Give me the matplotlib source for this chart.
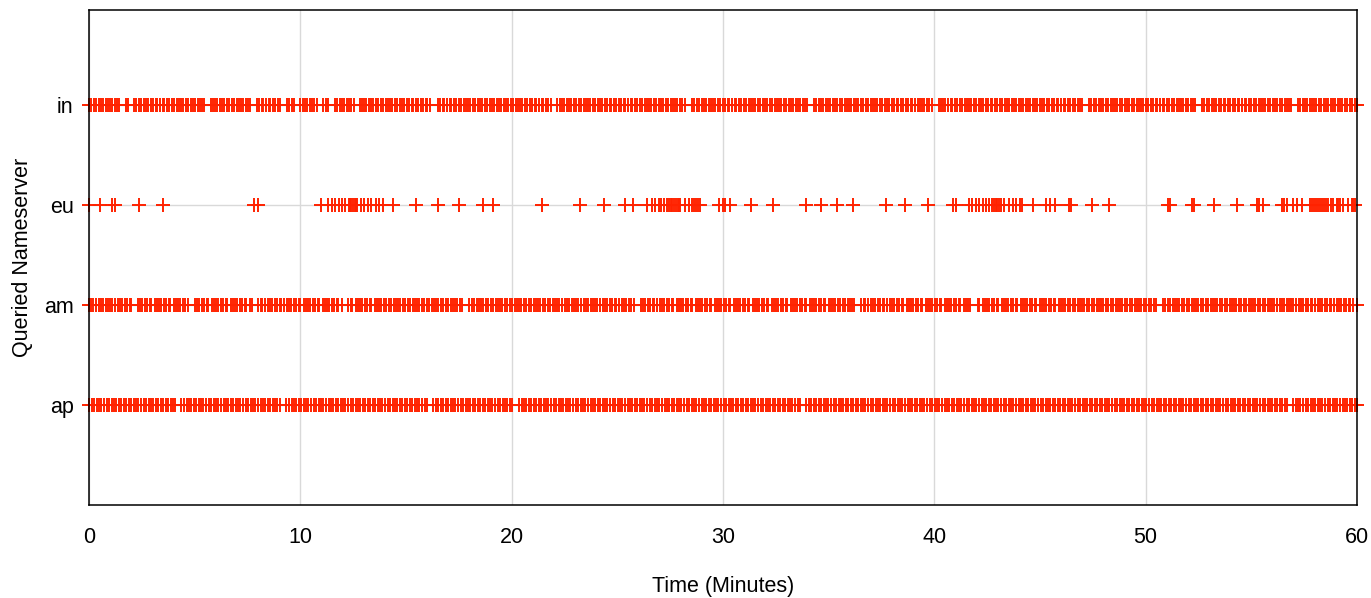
import matplotlib
matplotlib.use("Agg")
import matplotlib.pyplot as plt
import numpy as np

plt.rcParams['font.family'] = ['Liberation Sans', 'DejaVu Sans']

categories = ["ap", "am", "eu", "in"]
x_ticks = [0, 10, 20, 30, 40, 50, 60]

# query times (seconds) for the dense rows
in_s = [0, 6, 14, 19, 27, 34, 39, 47, 53, 61, 66, 74, 80, 86,
    104, 110,
    128, 134, 142, 147, 155, 162, 167, 175, 181, 189, 194, 202, 209, 214, 222, 228, 236, 241, 249, 255, 262, 268, 276, 281, 289, 296, 301, 309, 315, 322, 327,
    345, 352, 359, 364, 372, 379, 384, 392, 398, 406, 411, 419, 425, 432, 438, 445, 451, 458,
    476, 483, 490, 495, 503, 510, 515, 523, 529, 537, 543,
    562, 569, 576, 582,
    600, 607, 614, 619, 627, 634, 639, 646,
    665, 672, 679,
    698, 705, 712, 717, 725, 732, 737, 745, 751,
    768, 775, 782, 787, 795, 802, 807, 815, 821, 829, 834, 842, 848, 855, 861, 869, 874, 882, 889, 894, 902, 908, 916, 921, 929, 935, 942, 948, 956, 961, 968,
    990, 996, 1004, 1009, 1017, 1024, 1029, 1037, 1043, 1051, 1056, 1064, 1070, 1077, 1083, 1091, 1096, 1104, 1111, 1116, 1124, 1130, 1138, 1143, 1151, 1157, 1164, 1170, 1178, 1183, 1191, 1198, 1203, 1211, 1217, 1225, 1230, 1238, 1244, 1251, 1257, 1265, 1270, 1278, 1285, 1290, 1298, 1304, 1311,
    1330, 1337, 1344, 1349, 1357, 1364, 1369, 1377, 1383, 1391, 1396, 1404, 1410, 1417, 1423, 1431, 1436, 1444, 1451, 1456, 1464, 1470, 1478, 1483, 1491, 1497, 1504, 1510, 1518, 1523, 1531, 1538, 1543, 1551, 1557, 1565, 1570, 1578, 1584, 1591, 1597, 1605, 1610, 1618, 1625, 1630, 1638, 1644, 1651, 1657, 1665, 1670, 1678, 1684, 1691,
    1712, 1718, 1726, 1731, 1739, 1746, 1751, 1759, 1765, 1773, 1778, 1786, 1792, 1799, 1805, 1813, 1818, 1826, 1833, 1838, 1846, 1852, 1860, 1865, 1873, 1879, 1886, 1892, 1900, 1905, 1913, 1920, 1925, 1933, 1939, 1947, 1952, 1960, 1966, 1973, 1979, 1987, 1992, 2000, 2007, 2012, 2020, 2026, 2033, 2039,
    2058, 2065, 2072, 2077, 2085, 2092, 2097, 2105, 2111, 2119, 2124, 2132, 2138, 2145, 2151, 2159, 2164, 2172, 2179, 2184, 2192, 2198, 2206, 2211, 2219, 2225, 2232, 2238, 2246, 2251, 2259, 2266, 2271, 2279, 2285, 2293, 2298, 2306, 2312, 2319, 2325, 2333, 2338, 2346, 2353, 2358, 2366, 2372, 2379, 2385, 2393,
    2412, 2418, 2426, 2431, 2439, 2446, 2451, 2459, 2465, 2473, 2478, 2486, 2492, 2499, 2505, 2513, 2518, 2526, 2533, 2538, 2546, 2552, 2560, 2565, 2573, 2579, 2586, 2592, 2600, 2605, 2613, 2620, 2625, 2633, 2639, 2647, 2652, 2660, 2666, 2673, 2679, 2687, 2692, 2700, 2707, 2712, 2720, 2726, 2733, 2739, 2747, 2752, 2760, 2767, 2772, 2780, 2786, 2794, 2799, 2807, 2813, 2820,
    2840, 2846, 2854, 2859, 2867, 2874, 2879, 2887, 2893, 2901, 2906, 2914, 2920, 2927, 2933, 2941, 2946, 2954, 2961, 2966, 2974, 2980, 2988, 2993, 3001, 3007, 3014, 3020, 3028, 3033, 3041, 3048, 3053, 3061, 3067, 3075, 3080, 3088, 3094, 3101, 3107, 3115, 3120, 3128, 3135, 3140,
    3160, 3166, 3174, 3179, 3187, 3194, 3199, 3207, 3213, 3221, 3226, 3234, 3240, 3247, 3253, 3261, 3266, 3274, 3281, 3286, 3294, 3300, 3308, 3313, 3321, 3327, 3334, 3340, 3348, 3353, 3361, 3368, 3373, 3381, 3387, 3395, 3400, 3408, 3414,
    3432, 3438, 3446, 3451, 3459, 3466, 3471, 3479, 3485, 3493, 3498, 3506, 3512, 3519, 3525, 3533, 3538, 3546, 3553, 3558, 3566, 3572, 3580, 3585, 3593, 3600]

am_s = [0, 7, 12, 21, 27, 34, 39, 48, 54, 61, 66, 75, 81, 88, 93, 102, 108, 115, 120,
    138, 145, 150, 159, 165, 172, 177, 186, 192, 199, 204, 213, 219, 226, 231, 240, 246, 253, 258, 267, 273, 280,
    300, 307, 312, 321, 327, 334, 339, 348, 354, 361, 366, 375, 381, 388, 393, 402, 408, 415, 420, 429, 435, 442, 447, 456, 462,
    480, 487, 492, 501, 507, 514, 519, 528, 534, 541, 546, 555, 561, 568, 573, 582, 588, 595, 600, 609, 615, 622, 627, 636, 642, 649, 654, 663, 669, 676, 681, 690, 696, 703, 708, 717,
    736, 743, 748, 757, 763, 770, 775, 784, 790, 797, 802, 811, 817, 824, 829, 838, 844, 851, 856, 865, 871, 878, 883, 892, 898, 905, 910, 919, 925, 932, 937, 946, 952, 959, 964, 973, 979, 986, 991, 1000, 1006, 1013, 1018, 1027, 1033, 1040, 1045, 1054, 1060,
    1080, 1087, 1092, 1101, 1107, 1114, 1119, 1128, 1134, 1141, 1146, 1155, 1161, 1168, 1173, 1182, 1188, 1195, 1200, 1209, 1215, 1222, 1227, 1236, 1242, 1249, 1254, 1263, 1269, 1276, 1281, 1290, 1296, 1303, 1308, 1317, 1323, 1330, 1335, 1344, 1350, 1357, 1362, 1371, 1377, 1384, 1389, 1398, 1404, 1411, 1416, 1425, 1431, 1438, 1443, 1452, 1458, 1465, 1470, 1479, 1485, 1492, 1497, 1506, 1512, 1519, 1524, 1533, 1539, 1546,
    1566, 1573, 1578, 1587, 1593, 1600, 1605, 1614, 1620, 1627, 1632, 1641, 1647, 1654, 1659, 1668, 1674, 1681, 1686, 1695, 1701, 1708, 1713, 1722, 1728, 1735, 1740, 1749, 1755, 1762, 1767, 1776, 1782, 1789, 1794, 1803, 1809, 1816, 1821, 1830, 1836, 1843, 1848, 1857, 1863, 1870, 1875, 1884, 1890, 1897, 1902, 1911, 1917, 1924, 1929, 1938, 1944, 1951, 1956, 1965, 1971, 1978, 1983, 1992, 1998, 2005, 2010, 2019, 2025, 2032, 2037, 2046, 2052, 2059, 2064, 2073, 2079, 2086, 2091, 2100, 2106, 2113, 2118, 2127, 2133, 2140, 2145, 2154, 2160, 2167, 2172,
    2192, 2199, 2204, 2213, 2219, 2226, 2231, 2240, 2246, 2253, 2258, 2267, 2273, 2280, 2285, 2294, 2300, 2307, 2312, 2321, 2327, 2334, 2339, 2348, 2354, 2361, 2366, 2375, 2381, 2388, 2393, 2402, 2408, 2415, 2420, 2429, 2435, 2442, 2447, 2456, 2462, 2469, 2474, 2483, 2489, 2496, 2501,
    2523, 2528, 2537, 2543, 2550, 2555, 2564, 2570, 2577, 2582, 2591, 2597, 2604, 2609, 2618, 2624, 2631, 2636, 2645, 2651, 2658, 2663, 2672, 2678, 2685, 2690, 2699, 2705, 2712, 2717, 2726, 2732, 2739, 2744, 2753, 2759, 2766, 2771, 2780, 2786, 2793, 2798, 2807, 2813, 2820, 2825, 2834, 2840, 2847, 2852, 2861, 2867, 2874, 2879, 2888, 2894, 2901, 2906, 2915, 2921, 2928, 2933, 2942, 2948, 2955, 2960, 2969, 2975, 2982, 2987, 2996, 3002, 3009, 3014, 3023, 3029,
    3050, 3056, 3063, 3068, 3077, 3083, 3090, 3095, 3104, 3110, 3117, 3122, 3131, 3137, 3144, 3149, 3158, 3164, 3171, 3176, 3185, 3191, 3198, 3203, 3212, 3218, 3225, 3230, 3239, 3245, 3252, 3257, 3266, 3272, 3279, 3284, 3293, 3299, 3306, 3311, 3320, 3326, 3333, 3338, 3347, 3353, 3360, 3365, 3374, 3380, 3387, 3392, 3401, 3407, 3414, 3419, 3428, 3434, 3441, 3446, 3455, 3461, 3468, 3473, 3482, 3488, 3495, 3500, 3509, 3515, 3522, 3527, 3536, 3542, 3549, 3554, 3563, 3569, 3576, 3581, 3590, 3600]

ap_s = [0, 8, 14, 22, 29, 35, 43, 50, 56, 64, 71, 77, 85, 92, 98, 106, 113, 119, 127, 134, 140, 148, 155, 161, 169, 176, 182, 190, 197, 203, 211, 218, 224, 232, 239, 245,
    262, 270, 277, 283, 291, 298, 304, 312, 319, 325, 333, 340, 346, 354, 361, 367, 375, 382, 388, 396, 403, 409, 417, 424, 430, 438, 445, 451, 459, 466, 472, 480, 487, 493, 501, 508, 514, 522, 529, 535, 543,
    560, 568, 575, 581, 589, 596, 602, 610, 617, 623, 631, 638, 644, 652, 659, 665, 673, 680, 686, 694, 701, 707, 715, 722, 728, 736, 743, 749, 757, 764, 770, 778, 785, 791, 799, 806, 812, 820, 827, 833, 841, 848, 854, 862, 869, 875, 883, 890, 896, 904, 911, 917, 925, 932, 938, 946, 953, 959,
    977, 985, 992, 998, 1006, 1013, 1019, 1027, 1034, 1040, 1048, 1055, 1061, 1069, 1076, 1082, 1090, 1097, 1103, 1111, 1118, 1124, 1132, 1139, 1145, 1153, 1160, 1166, 1174, 1181, 1187, 1195, 1202,
    1220, 1228, 1235, 1241, 1249, 1256, 1262, 1270, 1277, 1283, 1291, 1298, 1304, 1312, 1319, 1325, 1333, 1340, 1346, 1354, 1361, 1367, 1375, 1382, 1388, 1396, 1403, 1409, 1417, 1424, 1430, 1438, 1445, 1451, 1459, 1466, 1472, 1480, 1487, 1493, 1501, 1508, 1514, 1522, 1529, 1535, 1543, 1550, 1556, 1564, 1571, 1577, 1585, 1592, 1598, 1606, 1613, 1619, 1627, 1634, 1640, 1648, 1655, 1661, 1669, 1676, 1682, 1690, 1697, 1703, 1711, 1718, 1724, 1732, 1739, 1745, 1753, 1760, 1766, 1774, 1781, 1787, 1795, 1802, 1808, 1816, 1823, 1829, 1837, 1844, 1850, 1858, 1865, 1871, 1879, 1886, 1892, 1900, 1907, 1913, 1921, 1928, 1934, 1942, 1949, 1955, 1963, 1970, 1976, 1984, 1991, 1997, 2005, 2012, 2018,
    2036, 2044, 2051, 2057, 2065, 2072, 2078, 2086, 2093, 2099, 2107, 2114, 2120, 2128, 2135, 2141, 2149, 2156, 2162, 2170, 2177, 2183, 2191, 2198, 2204, 2212, 2219, 2225, 2233, 2240, 2246, 2254, 2261, 2267, 2275, 2282, 2288, 2296, 2303, 2309, 2317, 2324, 2330, 2338, 2345, 2351, 2359, 2366, 2372, 2380, 2387, 2393, 2401, 2408, 2414, 2422, 2429, 2435, 2443, 2450, 2456, 2464, 2471, 2477, 2485, 2492, 2498, 2506, 2513, 2519, 2527, 2534, 2540, 2548, 2555, 2561, 2569, 2576, 2582, 2590, 2597, 2603, 2611, 2618, 2624, 2632, 2639, 2645, 2653, 2660, 2666, 2674, 2681, 2687, 2695, 2702, 2708, 2716, 2723, 2729, 2737, 2744, 2750, 2758, 2765, 2771, 2779, 2786, 2792, 2800, 2807, 2813, 2821, 2828, 2834, 2842, 2849, 2855, 2863, 2870, 2876, 2884, 2891, 2897, 2905, 2912, 2918, 2926, 2933, 2939, 2947, 2954, 2960, 2968, 2975, 2981, 2989, 2996, 3002, 3010, 3017, 3023, 3031, 3038, 3044, 3052, 3059, 3065, 3073, 3080, 3086, 3094, 3101, 3107, 3115, 3122, 3128, 3136, 3143, 3149, 3157, 3164, 3170, 3178, 3185, 3191, 3199, 3206, 3212, 3220, 3227, 3233, 3241, 3248, 3254, 3262, 3269, 3275, 3283, 3290, 3296, 3304, 3311, 3317, 3325, 3332, 3338, 3346, 3353, 3359, 3367, 3374, 3380, 3388, 3395, 3401,
    3418, 3426, 3433, 3439, 3447, 3454, 3460, 3468, 3475, 3481, 3489, 3496, 3502, 3510, 3517, 3523, 3531, 3538, 3544, 3552, 3559, 3565, 3573, 3580, 3586, 3594, 3600]

# query times (minutes) for the sparse eu row
eu_min = [0.0, 0.52, 1.07, 1.23, 2.38, 3.5, 7.82, 7.98,
    10.98, 11.30, 11.50, 11.66, 11.82, 11.97, 12.13, 12.28, 12.35, 12.42, 12.50, 12.57, 12.64, 12.70,
    12.87, 13.03, 13.19, 13.35, 13.58, 13.74, 13.93, 14.40, 15.47, 16.53, 17.52, 18.63, 19.10,
    21.44, 23.25, 24.36, 25.38, 25.75, 26.41, 26.65, 26.80, 26.96, 27.07, 27.20,
    27.36, 27.45, 27.52, 27.60, 27.68, 27.76, 27.85, 27.93, 27.98, 28.22, 28.38,
    28.53, 28.62, 28.70, 28.80, 28.92, 29.80, 30.0, 30.08, 30.32,
    31.34, 32.37, 33.95, 34.63, 35.40, 36.16, 37.73, 38.60, 39.71,
    40.86, 41.02, 41.65, 41.80, 41.96, 42.12, 42.28, 42.44, 42.59, 42.72, 42.83, 42.91, 42.98,
    43.07, 43.15, 43.30, 43.54, 43.70, 43.88, 44.04, 44.17, 44.68, 45.28, 45.46, 45.72,
    46.38, 46.46, 47.45, 48.27,
    51.08, 51.16, 52.18, 52.29, 53.21, 54.31, 55.26, 55.38, 55.54, 56.44, 56.55, 56.68, 56.99,
    57.15, 57.39, 57.78, 57.86, 57.95, 58.05, 58.15, 58.25, 58.35, 58.45, 58.55, 58.65, 58.75,
    58.88, 59.04, 59.12, 59.20, 59.35, 59.59, 59.75, 59.83, 59.90]

color = "#ff2200"

fig = plt.figure(figsize=(13.71, 5.98), dpi=100)
ax = fig.add_axes([89 / 1371, 93 / 598, (1357 - 89) / 1371, (505 - 10) / 598])

rows = {
    "ap": np.array(ap_s) / 60.0,
    "am": np.array(am_s) / 60.0,
    "eu": np.array(eu_min),
    "in": np.array(in_s) / 60.0,
}
for i, cat in enumerate(categories):
    t = rows[cat]
    ax.plot(t, np.full(len(t), i), linestyle="none", marker="+",
            markersize=10.5, markeredgewidth=1.4, color=color,
            clip_on=False, zorder=3)

ax.set_xlim(0, 60)
ax.set_ylim(-1, 3.95)
ax.set_xticks(x_ticks)
ax.set_xticklabels([str(v) for v in x_ticks])
ax.set_yticks(range(len(categories)))
ax.set_yticklabels(categories)

ax.grid(True, color="#d9d9d9", linewidth=1.0, zorder=0)
ax.set_axisbelow(True)
for s in ax.spines.values():
    s.set_linewidth(1.1)
    s.set_color("black")
    s.set_zorder(4)

ax.tick_params(axis="both", labelsize=15.5, length=0)
ax.tick_params(axis="x", pad=16)
ax.tick_params(axis="y", pad=11)
ax.set_xlabel("Time (Minutes)", fontsize=15.5, labelpad=20)
ax.set_ylabel("Queried Nameserver", fontsize=15.5, labelpad=8)

fig.savefig("out.png", dpi=100)
